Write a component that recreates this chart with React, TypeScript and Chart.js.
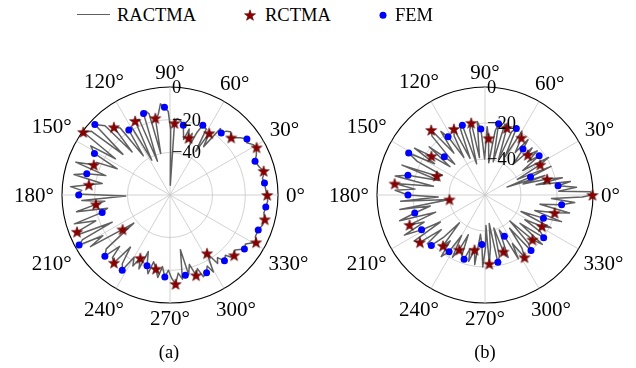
import React, { useEffect, useRef } from 'react';
import { Chart, registerables } from 'chart.js';

Chart.register(...registerables);

const FONT = '"Liberation Serif", "Times New Roman", serif';

// ---- axes ----
const gridStep = 0.6; // degrees between radar categories
const angleTickLabels = [0, 30, 60, 90, 120, 150, 180, 210, 240, 270, 300, 330];
const radialTicks = [-40, -20, 0];
const radialMinA = -66;
const radialMinB = -60;
const radialMax = 0;

// ---- marker angles (degrees) ----
const rctmaAngles = [0, 14.4, 28.8, 43.2, 57.6, 72, 86.4, 100.8, 115.2, 129.6, 144, 158.4, 172.8, 187.2, 201.6, 216, 230.4, 244.8, 259.2, 273.6, 288, 302.4, 316.8, 331.2, 345.6];
const femAngles = [7.2, 21.6, 36, 50.4, 64.8, 79.2, 93.6, 108, 122.4, 136.8, 151.2, 165.6, 180, 194.4, 208.8, 223.2, 237.6, 252, 266.4, 280.8, 295.2, 309.6, 324, 338.4, 352.8];

// ---- (a) values in dB ----
const rctmaA = [-6.6, -6.9, -5.6, -14.7, -21.3, -29.4, -22, -18.2, -16, -12.2, -0.5, -15.9, -16, -20.4, -4.9, -30.2, -12.3, -23.4, -20.1, -11.5, -14.4, -23.8, -12.2, -6, -6.2];
const femA = [-7.8, -10.1, -7.9, -16.9, -18.9, -22.6, -12.2, -13.7, -19, -3, -13.3, -13.5, -10.2, -23.2, -2.6, -11.4, -11.5, -20.6, -15.8, -16.1, -13.5, -13.8, -9.8, -8, -7];
const ractmaA: [number, number][] = [
  [0, -6.6], [3, -7.4], [7.2, -7.8], [10, -8.6], [12.5, -7.2], [14.4, -6.9], [17.5, -8.8], [21.6, -10.1], [24.5, -8], [28.8, -5.6],
  [31.5, -6.6], [34, -9.2], [36, -7.9], [39, -10.5], [41.5, -13], [43.2, -14.7], [46, -12.5], [48.5, -14], [50.4, -16.9], [53, -15],
  [55, -30], [57.6, -21.3], [59.5, -35], [61.5, -20], [64.8, -18.9], [66.5, -24], [68.5, -33], [70.5, -26], [72, -29.4], [74, -24],
  [76.5, -31], [79.2, -22.6], [82, -20], [84.5, -19], [86.4, -22], [88.2, -60], [89.6, -26], [91.2, -15], [93.6, -12.2], [96, -10],
  [98.2, -16.5], [100.8, -18.2], [102.6, -40], [104.5, -15], [106.2, -12.5], [108, -13.7], [110.3, -44], [112.4, -16], [115.2, -16], [117.4, -42],
  [119.5, -18], [122.4, -19], [124.4, -37], [126.5, -15], [129.6, -12.2], [131.5, -31], [133.5, -8], [136.8, -3], [139, -28], [141.2, -4],
  [144, -0.5], [146.2, -26], [148.4, -9], [151.2, -13.3], [153.8, -30], [156, -17], [158.4, -15.9], [161, -5], [163.2, -25], [165.6, -13.5],
  [168, -6], [170.3, -24], [172.8, -16], [175, -5], [177.2, -12], [179.4, -9], [181.2, -39], [183.4, -12], [185.2, -26], [187.2, -20.4],
  [190, -8], [192.2, -27], [194.4, -23.2], [197, -5], [199.2, -18], [201.6, -4.9], [203.4, -6], [205.4, -27], [207.2, -6], [208.8, -2.6],
  [211, -18], [213.2, -8], [216, -30.2], [218, -38], [220.2, -15], [223.2, -11.4], [225.4, -22], [227.4, -14], [230.4, -12.3], [232.8, -26],
  [235, -15], [237.6, -11.5], [240, -22], [242.2, -17], [244.8, -23.4], [247, -17], [249.2, -29], [252, -20.6], [254.2, -16], [256.4, -24],
  [259.2, -20.1], [261.8, -15], [264, -22], [266.4, -15.8], [268.8, -20], [271, -15], [273.6, -11.5], [276, -18], [278.6, -14], [281, -32],
  [283.2, -16], [285.4, -22], [288, -14.4], [290.2, -18], [292.4, -12], [295.2, -13.5], [297.4, -17], [299.6, -12], [302.4, -23.8], [305, -15],
  [307.2, -18], [309.6, -13.8], [312.4, -16], [314.6, -13], [316.8, -12.2], [320, -14], [324, -9.8], [327, -11], [331.2, -6], [334.2, -8],
  [338.4, -8], [342, -6.5], [345.6, -6.2], [349, -7.6], [352.8, -7], [356.4, -6.2],
];

// ---- (b) values in dB ----
const rctmaB = [-0.3, -24.4, -25, -27.4, -22.3, -20.8, -28.4, -19.2, -19.4, -13.1, -23.2, -31.2, -9.4, -40.1, -14.9, -15.3, -23.4, -26.4, -29, -21.7, -26.9, -19, -23.8, -23.9, -20.1];
const femB = [-19.1, -32.8, -22.8, -26.9, -19.1, -19.7, -23.2, -19.3, -21.7, -29, -11.6, -15.8, -17.2, -19.7, -19.8, -19.1, -22.7, -22.4, -32.5, -21.9, -34.7, -19.9, -19.7, -25.1, -17.1];
const ractmaB: [number, number][] = [
  [0, -0.5], [1.8, -1.5], [3.2, -19], [5, -9], [7.2, -19.1], [9.2, -12], [11.4, -31], [12.8, -16], [14.4, -24.4], [16.2, -38],
  [18, -25], [20, -47], [21.6, -32.8], [23.6, -20], [25.8, -40], [28.8, -25], [30.8, -19], [33, -35], [36, -22.8], [38, -30],
  [40.2, -22], [43.2, -27.4], [45.2, -23], [47.4, -37], [50.4, -26.9], [52.4, -21], [54.6, -31], [57.6, -22.3], [60, -19], [62.2, -36],
  [64.8, -19.1], [67, -22], [69.2, -39], [72, -20.8], [74.2, -19], [76.4, -41], [79.2, -19.7], [81.2, -24], [83.4, -42], [86.4, -28.4],
  [88.4, -22], [90.4, -40], [93.6, -23.2], [96, -19], [98.2, -39], [100.8, -19.2], [103, -23], [105.2, -42], [108, -19.3], [110.2, -21],
  [112.4, -38], [115.2, -19.4], [117.4, -23], [119.6, -36], [122.4, -21.7], [124.6, -17], [126.8, -31], [129.6, -13.1], [132, -16], [134.2, -36],
  [136.8, -29], [139, -19], [141.2, -35], [144, -23.2], [146.2, -13], [148.4, -27], [151.2, -11.6], [153.4, -18], [155.6, -34], [158.4, -31.2],
  [160.4, -11], [162.6, -33], [165.6, -15.8], [168, -9], [170.2, -31], [172.8, -9.4], [175, -21], [177.2, -10], [180, -17.2], [182.2, -34],
  [184.4, -13], [187.2, -40.1], [189.4, -12], [191.6, -29], [194.4, -19.7], [197, -10.5], [199.2, -31], [201.6, -14.9], [204, -23], [206.2, -10],
  [208.8, -19.8], [211, -31], [213.2, -13], [216, -15.3], [218.2, -29], [220.4, -18], [223.2, -19.1], [225.4, -27], [227.6, -39], [230.4, -23.4],
  [232.6, -28], [234.8, -18], [237.6, -22.7], [240, -34], [242.2, -21], [244.8, -26.4], [247, -36], [249.2, -24], [252, -22.4], [254.2, -29],
  [256.4, -22], [259.2, -29], [261.4, -21], [263.6, -38], [266.4, -32.5], [268.4, -20], [270.4, -31], [272, -43], [273.6, -21.7], [276, -31],
  [278.2, -44], [280.8, -21.9], [283, -25], [285.2, -41], [288, -26.9], [290.2, -23], [292.4, -39], [295.2, -34.7], [297.4, -20], [299.6, -29],
  [302.4, -19], [304.6, -24], [306.8, -37], [309.6, -19.9], [311.8, -24], [314, -40], [316.8, -23.8], [319, -18], [321.2, -35], [324, -19.7],
  [326.2, -23], [328.4, -34], [331.2, -23.9], [333.4, -19], [335.6, -38], [338.4, -25.1], [340.6, -15], [342.8, -31], [345.6, -20.1], [348, -12],
  [350.2, -29], [352.8, -17.1], [355, -10], [357.2, -23], [358.8, -6],
];

// ---- radar categories: index 0 at top, clockwise; value = polar angle (deg, ccw from east) ----
const categoryCount = Math.round(360 / gridStep);
const categories = Array.from({ length: categoryCount }, (_, i) => {
  const a = (((90 - i * gridStep) % 360) + 360) % 360;
  return Math.round(a * 100) / 100;
});
const indexOfAngle = (a: number) =>
  ((Math.round((90 - a) / gridStep) % categoryCount) + categoryCount) % categoryCount;

function sparseFromMarkers(angles: number[], values: number[]) {
  const arr: (number | null)[] = new Array(categoryCount).fill(null);
  angles.forEach((a, k) => { arr[indexOfAngle(a)] = values[k]; });
  return arr;
}
function sparseFromPairs(pairs: [number, number][]) {
  const arr: (number | null)[] = new Array(categoryCount).fill(null);
  pairs.forEach(([a, v]) => { arr[indexOfAngle(a)] = v; });
  return arr;
}
const isMajorAngle = (a: number) => Math.abs(a - Math.round(a / 30) * 30) < 1e-6;

function starPoints(cx: number, cy: number, R: number, r: number) {
  const pts: string[] = [];
  for (let i = 0; i < 10; i++) {
    const rad = i % 2 ? r : R;
    const t = -Math.PI / 2 + (i * Math.PI) / 5;
    pts.push(`${(cx + rad * Math.cos(t)).toFixed(2)},${(cy + rad * Math.sin(t)).toFixed(2)}`);
  }
  return pts.join(' ');
}

function makeStarCanvas() {
  const size = 14;
  const c = document.createElement('canvas');
  c.width = size;
  c.height = size;
  const g = c.getContext('2d')!;
  g.beginPath();
  for (let i = 0; i < 10; i++) {
    const rad = i % 2 ? 2.4 : 5.8;
    const t = -Math.PI / 2 + (i * Math.PI) / 5;
    g.lineTo(size / 2 + rad * Math.cos(t), size / 2 + 0.6 + rad * Math.sin(t));
  }
  g.closePath();
  g.fillStyle = '#8b0000';
  g.fill();
  g.lineWidth = 0.6;
  g.strokeStyle = '#5a0000';
  g.stroke();
  return c;
}

const polarTextPlugin = {
  id: 'polarText',
  afterDraw(chart: any) {
    const s = chart.scales.r;
    const ctx = chart.ctx as CanvasRenderingContext2D;
    ctx.save();
    ctx.fillStyle = '#000';
    ctx.font = `21px ${FONT}`;
    ctx.textAlign = 'center';
    ctx.textBaseline = 'alphabetic';
    const capH = 13.6;
    for (const a of angleTickLabels) {
      const text = `${a}°`;
      const w = ctx.measureText(text).width;
      const th = (a * Math.PI) / 180;
      const d = s.drawingArea + 8 + (w / 2) * Math.abs(Math.cos(th)) + (capH / 2) * Math.abs(Math.sin(th));
      const p = s.getPointPosition(indexOfAngle(a), d);
      ctx.fillText(text, p.x, p.y + capH / 2);
    }
    ctx.font = `18.5px ${FONT}`;
    ctx.textAlign = 'left';
    for (const v of radialTicks) {
      const y = s.yCenter - s.getDistanceFromCenterForValue(v);
      ctx.fillText(v === 0 ? '0' : '\u2212' + Math.abs(v), s.xCenter + 2, y + 6);
    }
    ctx.restore();
  },
};

function buildConfig(
  line: [number, number][],
  rctma: number[],
  fem: number[],
  rMin: number,
  star: HTMLCanvasElement,
  padding: { left: number; right: number; top: number; bottom: number }
): any {
  return {
    type: 'radar',
    data: {
      labels: categories,
      datasets: [
        {
          label: 'FEM',
          data: sparseFromMarkers(femAngles, fem),
          showLine: false,
          pointStyle: 'circle',
          pointRadius: 3.5,
          pointBackgroundColor: '#0000ff',
          pointBorderColor: '#0000ff',
          pointBorderWidth: 0,
          order: 0,
        },
        {
          label: 'RCTMA',
          data: sparseFromMarkers(rctmaAngles, rctma),
          showLine: false,
          pointStyle: star,
          pointRadius: 5,
          order: 1,
        },
        {
          label: 'RACTMA',
          data: sparseFromPairs(line),
          spanGaps: true,
          fill: false,
          borderColor: '#606060',
          borderWidth: 1.5,
          pointRadius: 0,
          tension: 0,
          order: 2,
        },
      ],
    },
    options: {
      responsive: false,
      animation: false,
      events: [],
      layout: { padding },
      elements: { line: { borderJoinStyle: 'round' } },
      plugins: { legend: { display: false }, tooltip: { enabled: false } },
      scales: {
        r: {
          min: rMin,
          max: radialMax,
          startAngle: 0,
          afterBuildTicks: (scale: any) => {
            scale.ticks = radialTicks.map((v) => ({ value: v }));
          },
          ticks: { display: false },
          pointLabels: { display: false },
          grid: {
            circular: true,
            color: (c: any) => (c.tick && c.tick.value === 0 ? '#000000' : '#c6c6c6'),
            lineWidth: (c: any) => (c.tick && c.tick.value === 0 ? 1.1 : 0.8),
          },
          angleLines: {
            display: true,
            color: (c: any) => (isMajorAngle(categories[c.index]) ? '#c6c6c6' : 'rgba(0,0,0,0)'),
            lineWidth: (c: any) => (isMajorAngle(categories[c.index]) ? 0.8 : 0),
          },
        },
      },
    },
    plugins: [polarTextPlugin],
  };
}

const textStyle: React.CSSProperties = {
  position: 'absolute',
  fontFamily: FONT,
  fontSize: '18.5px',
  lineHeight: '18.5px',
  color: '#000',
  whiteSpace: 'nowrap',
};

export default function App() {
  const refA = useRef<HTMLCanvasElement>(null);
  const refB = useRef<HTMLCanvasElement>(null);

  useEffect(() => {
    const star = makeStarCanvas();
    const a = new Chart(refA.current!, buildConfig(ractmaA, rctmaA, femA, radialMinA, star, { left: 62, right: 62, top: 47, bottom: 57 }));
    const b = new Chart(refB.current!, buildConfig(ractmaB, rctmaB, femB, radialMinB, star, { left: 77, right: 43, top: 47, bottom: 57 }));
    return () => {
      a.destroy();
      b.destroy();
    };
  }, []);

  return (
    <div style={{ position: 'fixed', left: 0, top: 0, width: 636, height: 368, overflow: 'hidden', background: '#fff' }}>
      <canvas ref={refA} width={340} height={320} style={{ position: 'absolute', left: 0, top: 40, width: 340, height: 320 }} />
      <canvas ref={refB} width={336} height={320} style={{ position: 'absolute', left: 300, top: 40, width: 336, height: 320 }} />

      {/* legend */}
      <div style={{ position: 'absolute', left: 77, top: 14, width: 33, height: 0, borderTop: '1.5px solid #606060' }} />
      <span style={{ ...textStyle, left: 117, top: 5.5 }}>RACTMA</span>
      <svg style={{ position: 'absolute', left: 243, top: 8 }} width={14} height={14}>
        <polygon points={starPoints(7, 7.6, 5.8, 2.4)} fill="#8b0000" stroke="#5a0000" strokeWidth={0.6} />
      </svg>
      <span style={{ ...textStyle, left: 265, top: 5.5 }}>RCTMA</span>
      <svg style={{ position: 'absolute', left: 376, top: 8 }} width={14} height={14}>
        <circle cx={7} cy={7.3} r={3.5} fill="#0000ff" />
      </svg>
      <span style={{ ...textStyle, left: 395, top: 5.5 }}>FEM</span>

      {/* captions */}
      <div style={{ ...textStyle, left: 119, width: 100, textAlign: 'center', top: 343 }}>(a)</div>
      <div style={{ ...textStyle, left: 435, width: 100, textAlign: 'center', top: 343 }}>(b)</div>
    </div>
  );
}
